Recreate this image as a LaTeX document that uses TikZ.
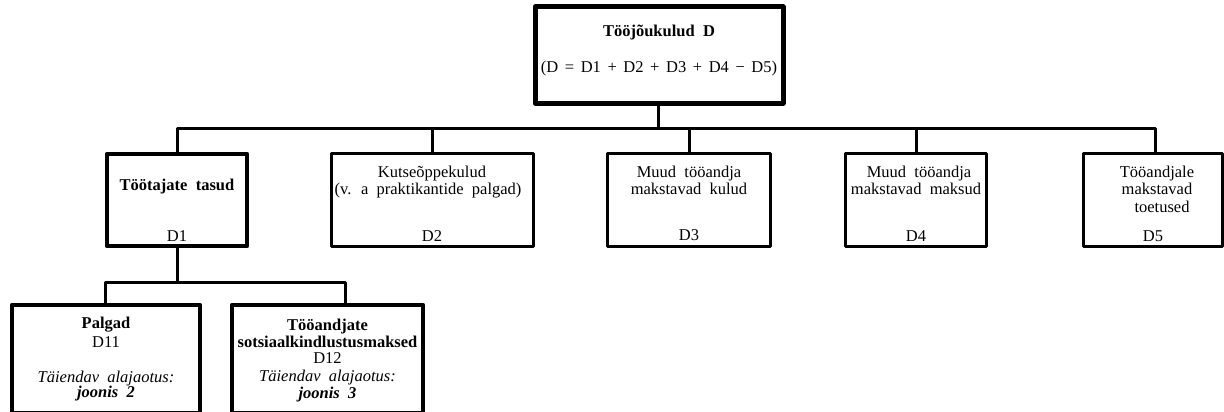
\documentclass[tikz,border=0pt]{standalone}
\usepackage{fontspec}
\setmainfont{Liberation Serif}[WordSpace=2.0]
\begin{document}
\begin{tikzpicture}[x=1pt,y=-1pt,
  box/.style={draw=black,line join=round,inner sep=0pt,fill=none},
  thickbox/.style={box,line width=5pt},
  midbox/.style={box,line width=4.3pt},
  thinbox/.style={box,line width=3.3pt},
  conn/.style={line width=3pt,draw=black},
  txt/.style={anchor=base,inner sep=0pt,font=\fontsize{16.5}{18}\selectfont},
  btxt/.style={txt,font=\fontsize{16.5}{18}\selectfont\bfseries},
  itxt/.style={txt,font=\fontsize{16.5}{18}\selectfont\itshape},
  bitxt/.style={txt,font=\fontsize{16.5}{18}\selectfont\bfseries\itshape}]
\useasboundingbox (0,0) rectangle (1224,412);
\newcommand{\fsp}{\hspace{0.4em}}
\begin{scope}
\clip (0,0) rectangle (1224,412);
% boxes
\node[thickbox,minimum width=248pt,minimum height=96pt] (top) at (659,55) {};
\node[midbox,minimum width=140pt,minimum height=92pt] (d1) at (177,200) {};
\node[thinbox,minimum width=202pt,minimum height=93pt] (d2) at (432.5,200) {};
\node[thinbox,minimum width=163pt,minimum height=93pt] (d3) at (689,200) {};
\node[thinbox,minimum width=141pt,minimum height=93pt] (d4) at (916,200) {};
\node[thinbox,minimum width=139pt,minimum height=93pt] (d5) at (1153,200) {};
\node[midbox,minimum width=188pt,minimum height=108pt] (d11) at (106,359) {};
\node[midbox,minimum width=191pt,minimum height=108pt] (d12) at (327.5,359) {};
\end{scope}
% connectors
\coordinate (bus) at (658,128);
\coordinate (c5) at (1155,128);
\coordinate (bus2) at (177,282);
\coordinate (b11) at (105,282);
\coordinate (b12) at (345,282);
\draw[conn] (top.south -| bus) -- (bus);
\draw[conn,line join=round] (d1.north) -- (d1.north |- bus) -- (c5) -- (c5 |- d5.north);
\draw[conn] (d2.north) -- (d2.north |- bus);
\draw[conn] (d3.north) -- (d3.north |- bus);
\draw[conn] (d4.north) -- (d4.north |- bus);
\draw[conn] (d1.south) -- (bus2);
\draw[conn,line join=round] (b11 |- d11.north) -- (b11) -- (b12) -- (b12 |- d12.north);
% texts
\node[btxt] (t0) at (659,37) {Tööjõukulud D};
\node[txt] (t0b) at (659,73) {(D\fsp=\fsp D1\fsp+\fsp D2\fsp+\fsp D3\fsp+\fsp D4\fsp−\fsp D5)};
\node[btxt] (t1) at (177,190) {Töötajate tasud};
\node[txt] (t1b) at (177,241) {D1};
\node[txt] (t2) at (432,177) {Kutseõppekulud};
\node[txt] (t2b) at (428,194) {(v. a praktikantide palgad)};
\node[txt] (t2c) at (432,241) {D2};
\node[txt] (t3) at (689,177) {Muud tööandja};
\node[txt] (t3b) at (689,194) {makstavad kulud};
\node[txt] (t3c) at (689,240) {D3};
\node[txt] (t4) at (919,177) {Muud tööandja};
\node[txt] (t4b) at (916,194) {makstavad maksud};
\node[txt] (t4c) at (916,241) {D4};
\node[txt] (t5) at (1157,177) {Tööandjale};
\node[txt] (t5b) at (1157,194) {makstavad};
\node[txt] (t5c) at (1162,212) {toetused};
\node[txt] (t5d) at (1153,241) {D5};
\node[btxt] (t11) at (106,328) {Palgad};
\node[txt] (t11b) at (106,347) {D11};
\node[itxt] (t11c) at (106,382) {Täiendav alajaotus:};
\node[bitxt] (t11d) at (106,397) {joonis 2};
\node[btxt] (t12) at (327.5,330) {Tööandjate};
\node[btxt] (t12b) at (327.5,347) {sotsiaalkindlustusmaksed};
\node[txt] (t12c) at (327.5,363) {D12};
\node[itxt] (t12d) at (327.5,381) {Täiendav alajaotus:};
\node[bitxt] (t12e) at (327.5,398) {joonis 3};
\end{tikzpicture}
\end{document}
